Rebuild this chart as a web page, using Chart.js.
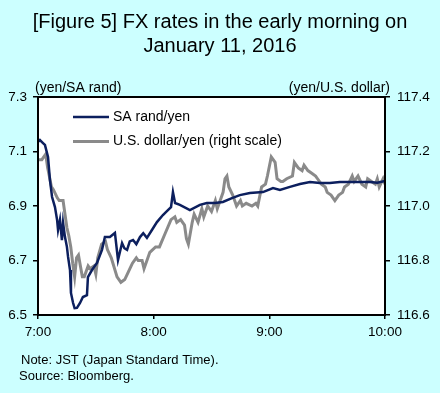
<!DOCTYPE html>
<html>
<head>
<meta charset="utf-8">
<script src="https://cdn.jsdelivr.net/npm/chart.js@4.4.1/dist/chart.umd.min.js"></script>
<style>
  body { margin: 0; background: #ccffff; }
  canvas { display: block; }
</style>
</head>
<body>
<canvas id="fxChart" width="440" height="393"></canvas>
<script>
// minutes after 7:00 JST
const randMinutes = [0, 1, 2.6, 3.6, 5.2, 6.2, 7.3, 8.8, 9.9, 10.4, 11.4, 12.4, 13, 14, 15, 15.6, 16.6, 17.1, 18.2, 19,
  20.2, 21.8, 23.3, 25.4, 25.9, 28, 30.6, 33.2, 34.7, 37.3, 39.9, 41.5, 43.6, 44.8, 46.2, 47.6, 49.3, 51, 52.9, 54.6,
  56.5, 59.1, 61.7, 64.8, 67.4, 69, 70, 71.1, 73.6, 78.8, 84, 87.6, 91.8, 95.9, 100.6, 104.7, 109.9, 116.7, 121.9, 125.5,
  130.7, 135.9, 141.1, 146.2, 151.4, 156.6, 161.8, 167, 172.2, 176, 180];
const randValues = [7.135, 7.142, 7.131, 7.124, 7.080, 6.995, 6.933, 6.896, 6.849, 6.812, 6.849, 6.775, 6.838, 6.786, 6.750, 6.713, 6.665, 6.581, 6.544, 6.525,
  6.526, 6.544, 6.566, 6.573, 6.639, 6.665, 6.691, 6.739, 6.786, 6.786, 6.801, 6.702, 6.764, 6.745, 6.739, 6.770, 6.775, 6.760, 6.786, 6.800,
  6.783, 6.812, 6.841, 6.867, 6.885, 6.896, 6.951, 6.911, 6.904, 6.885, 6.904, 6.911, 6.911, 6.915, 6.929, 6.940, 6.948, 6.951, 6.966, 6.959,
  6.970, 6.981, 6.988, 6.984, 6.984, 6.988, 6.988, 6.988, 6.988, 6.985, 6.992];

const usdMinutes = [0, 2, 3, 4, 5, 7, 8, 10, 11, 13, 14, 15, 16, 17, 18, 19, 20, 21, 22, 23,
  24, 26, 27, 29, 30, 31, 33, 35, 36, 38, 41, 43, 45, 47, 49, 51, 52, 54, 55, 58,
  61, 63, 66, 69, 71, 72, 74, 76, 77, 78, 80, 81, 83, 85, 86, 88, 90, 92, 93, 96,
  97, 98, 99, 101, 103, 105, 106, 108, 111, 113, 114, 116, 118, 119, 121, 123, 124, 126, 127, 129,
  132, 133, 135, 137, 138, 140, 142, 144, 145, 147, 149, 150, 152, 154, 156, 158, 159, 161, 163, 164,
  166, 168, 170, 171, 173, 175, 176, 177, 179, 180];
const usdValues = [117.17, 117.17, 117.18, 117.19, 117.14, 117.07, 117.06, 117.03, 117.02, 117.02, 116.97, 116.92, 116.89, 116.85, 116.79, 116.74, 116.81, 116.82, 116.78, 116.74,
  116.74, 116.78, 116.77, 116.78, 116.75, 116.81, 116.86, 116.87, 116.84, 116.81, 116.74, 116.72, 116.73, 116.76, 116.79, 116.81, 116.80, 116.80, 116.77, 116.83,
  116.85, 116.85, 116.90, 116.95, 116.96, 116.94, 116.95, 116.93, 116.88, 116.86, 116.94, 116.97, 116.94, 116.99, 116.96, 117.00, 116.98, 117.02, 116.99, 117.05,
  117.10, 117.11, 117.07, 117.04, 117.00, 117.02, 117.00, 117.01, 117.00, 117.01, 117.00, 117.07, 117.08, 117.11, 117.18, 117.16, 117.10, 117.09, 117.09, 117.10,
  117.11, 117.16, 117.14, 117.13, 117.15, 117.13, 117.12, 117.11, 117.10, 117.08, 117.07, 117.05, 117.04, 117.02, 117.04, 117.05, 117.07, 117.08, 117.11, 117.09,
  117.11, 117.08, 117.07, 117.10, 117.09, 117.08, 117.10, 117.07, 117.10, 117.08];

const hourTicks = [0, 60, 120, 180];
const hourLabels = ['7:00', '8:00', '9:00', '10:00'];
const randTicks = [6.5, 6.7, 6.9, 7.1, 7.3];
const usdTicks = [116.6, 116.8, 117.0, 117.2, 117.4];

const font = 'Liberation Sans, Arial, sans-serif';

// white plot area, frame, unit labels, legend and notes
const decor = {
  id: 'decor',
  beforeDraw(chart) {
    const { ctx, chartArea: a } = chart;
    ctx.save();
    ctx.fillStyle = '#ffffff';
    ctx.fillRect(a.left, a.top, a.right - a.left, a.bottom - a.top);
    ctx.restore();
  },
  afterDraw(chart) {
    const { ctx, chartArea: a } = chart;
    ctx.save();
    ctx.strokeStyle = '#000';
    ctx.lineWidth = 2;
    ctx.strokeRect(a.left, a.top, a.right - a.left, a.bottom - a.top);

    ctx.fillStyle = '#000';
    ctx.font = '14px ' + font;
    ctx.textBaseline = 'middle';
    ctx.textAlign = 'left';
    ctx.fillText('(yen/SA rand)', 35, 88);
    ctx.textAlign = 'right';
    ctx.fillText('(yen/U.S. dollar)', 390, 88);

    // legend
    ctx.textAlign = 'left';
    chart.data.datasets.forEach((ds, i) => {
      const y = 117 + i * 24.5;
      ctx.strokeStyle = ds.borderColor;
      ctx.lineWidth = ds.borderWidth;
      ctx.beginPath();
      ctx.moveTo(73, y);
      ctx.lineTo(109, y);
      ctx.stroke();
      ctx.fillText(ds.label, 113, y);
    });

    ctx.font = '13px ' + font;
    ctx.fillText('Note: JST (Japan Standard Time).', 21, 360);
    ctx.fillText('Source: Bloomberg.', 19, 376);
    ctx.restore();
  }
};

new Chart(document.getElementById('fxChart'), {
  type: 'line',
  data: {
    datasets: [{
      label: 'SA rand/yen',
      data: randMinutes.map((m, i) => ({ x: m, y: randValues[i] })),
      borderColor: '#0c1f5e',
      borderWidth: 2.5,
      pointRadius: 0,
      yAxisID: 'y'
    }, {
      label: 'U.S. dollar/yen (right scale)',
      data: usdMinutes.map((m, i) => ({ x: m, y: usdValues[i] })),
      borderColor: '#8a8a8a',
      borderWidth: 3,
      pointRadius: 0,
      yAxisID: 'y1'
    }]
  },
  options: {
    responsive: false,
    animation: false,
    layout: { padding: { top: 0, bottom: 48, left: 0, right: 0 } },
    plugins: {
      legend: { display: false },
      tooltip: { enabled: false },
      title: {
        display: true,
        text: ['[Figure 5] FX rates in the early morning on', 'January 11, 2016'],
        color: '#000',
        font: { family: font, size: 20, weight: 'normal', lineHeight: 1.2 },
        padding: { top: 10, bottom: 39 }
      }
    },
    scales: {
      x: {
        type: 'linear',
        min: 0,
        max: 180,
        afterBuildTicks: s => { s.ticks = hourTicks.map(v => ({ value: v })); },
        afterFit: s => { s.height = 30; },
        ticks: {
          autoSkip: false,
          maxRotation: 0,
          padding: 5,
          color: '#000',
          font: { family: font, size: 13.5 },
          callback: (v, i) => hourLabels[i]
        },
        grid: { drawOnChartArea: false, tickLength: 4, color: '#000', lineWidth: 1.5 },
        border: { color: '#000', width: 2 }
      },
      y: {
        position: 'left',
        min: 6.5,
        max: 7.3,
        afterBuildTicks: s => { s.ticks = randTicks.map(v => ({ value: v })); },
        afterFit: s => { s.width = 38; },
        ticks: {
          padding: 6,
          color: '#000',
          font: { family: font, size: 13.5 },
          callback: v => v.toFixed(1)
        },
        grid: { drawOnChartArea: false, tickLength: 5, color: '#000', lineWidth: 1.5 },
        border: { color: '#000', width: 2 }
      },
      y1: {
        position: 'right',
        min: 116.6,
        max: 117.4,
        afterBuildTicks: s => { s.ticks = usdTicks.map(v => ({ value: v })); },
        afterFit: s => { s.width = 55; },
        ticks: {
          padding: 7,
          color: '#000',
          font: { family: font, size: 13.5 },
          callback: v => v.toFixed(1)
        },
        grid: { drawOnChartArea: false, tickLength: 5, color: '#000', lineWidth: 1.5 },
        border: { color: '#000', width: 2 }
      }
    }
  },
  plugins: [decor]
});
</script>
</body>
</html>
